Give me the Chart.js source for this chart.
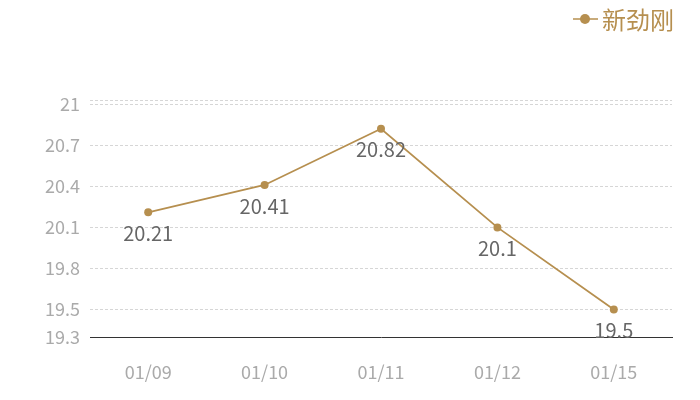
<!DOCTYPE html>
<html>
<head>
<meta charset="utf-8">
<script src="https://cdn.jsdelivr.net/npm/chart.js@4"></script>
<style>
  body { margin: 0; background: #fff; }
  #wrap { width: 700px; height: 400px; position: relative; }
</style>
</head>
<body>
<div id="wrap"><canvas id="chart"></canvas></div>
<script>
const labels = ["01/09", "01/10", "01/11", "01/12", "01/15"];
const prices = [20.21, 20.41, 20.82, 20.1, 19.5];
const yTicks = [19.3, 19.5, 19.8, 20.1, 20.4, 20.7, 21];
const seriesName = "新劲刚";

const gold = "#B68F4F";
const fontFam = "'Noto Sans CJK SC', 'Noto Sans', sans-serif";

// value labels under each point
const valueLabels = {
    id: "valueLabels",
    afterDatasetsDraw(chart) {
        const ctx = chart.ctx;
        const meta = chart.getDatasetMeta(0);
        ctx.save();
        ctx.font = "20px " + fontFam;
        ctx.fillStyle = "#666";
        ctx.textAlign = "center";
        ctx.textBaseline = "middle";
        meta.data.forEach((pt, i) => {
            ctx.fillText(String(prices[i]), pt.x, pt.y + 21);
        });
        ctx.restore();
    }
};

// legend in the top right corner
const cornerLegend = {
    id: "cornerLegend",
    afterDraw(chart) {
        const ctx = chart.ctx;
        ctx.save();
        ctx.strokeStyle = gold;
        ctx.lineWidth = 1.5;
        ctx.beginPath();
        ctx.moveTo(573, 19);
        ctx.lineTo(598, 19);
        ctx.stroke();
        ctx.fillStyle = gold;
        ctx.beginPath();
        ctx.arc(585, 19, 5, 0, Math.PI * 2);
        ctx.fill();
        ctx.font = "24px " + fontFam;
        ctx.textAlign = "left";
        ctx.textBaseline = "middle";
        ctx.fillText(seriesName, 602, 20);
        ctx.restore();
    }
};

const ctx = document.getElementById("chart");

new Chart(ctx, {
    type: "line",
    data: {
        labels: labels,
        datasets: [{
            label: seriesName,
            data: prices,
            borderColor: gold,
            backgroundColor: gold,
            borderWidth: 1.8,
            pointRadius: 4,
            pointBorderWidth: 0,
            pointBackgroundColor: gold,
            tension: 0
        }]
    },
    options: {
        responsive: true,
        maintainAspectRatio: false,
        animation: false,
        layout: { padding: { top: 100, right: 28, bottom: 0, left: 0 } },
        plugins: {
            legend: { display: false },
            tooltip: { enabled: false }
        },
        scales: {
            x: {
                offset: true,
                afterFit(scale) { scale.height = 63; },
                grid: { display: false, drawTicks: false },
                border: { display: true, color: "#333", width: 1 },
                ticks: { color: "#aaa", font: { size: 18, family: fontFam }, padding: 24 }
            },
            y: {
                min: 19.3,
                max: 21.03,
                afterBuildTicks(scale) {
                    scale.ticks = yTicks.concat([21.03]).map(v => ({ value: v }));
                },
                afterFit(scale) { scale.width = 90; },
                grid: {
                    drawTicks: false,
                    color: (c) => c.tick && c.tick.value === 19.3 ? "rgba(0,0,0,0)" : "#d6d6d6"
                },
                border: { display: false, dash: [3, 2] },
                ticks: {
                    color: "#aaa",
                    font: { size: 18, family: fontFam },
                    padding: 10,
                    callback: (v) => yTicks.includes(v) ? String(v) : ""
                }
            }
        }
    },
    plugins: [valueLabels, cornerLegend]
});
</script>
</body>
</html>
